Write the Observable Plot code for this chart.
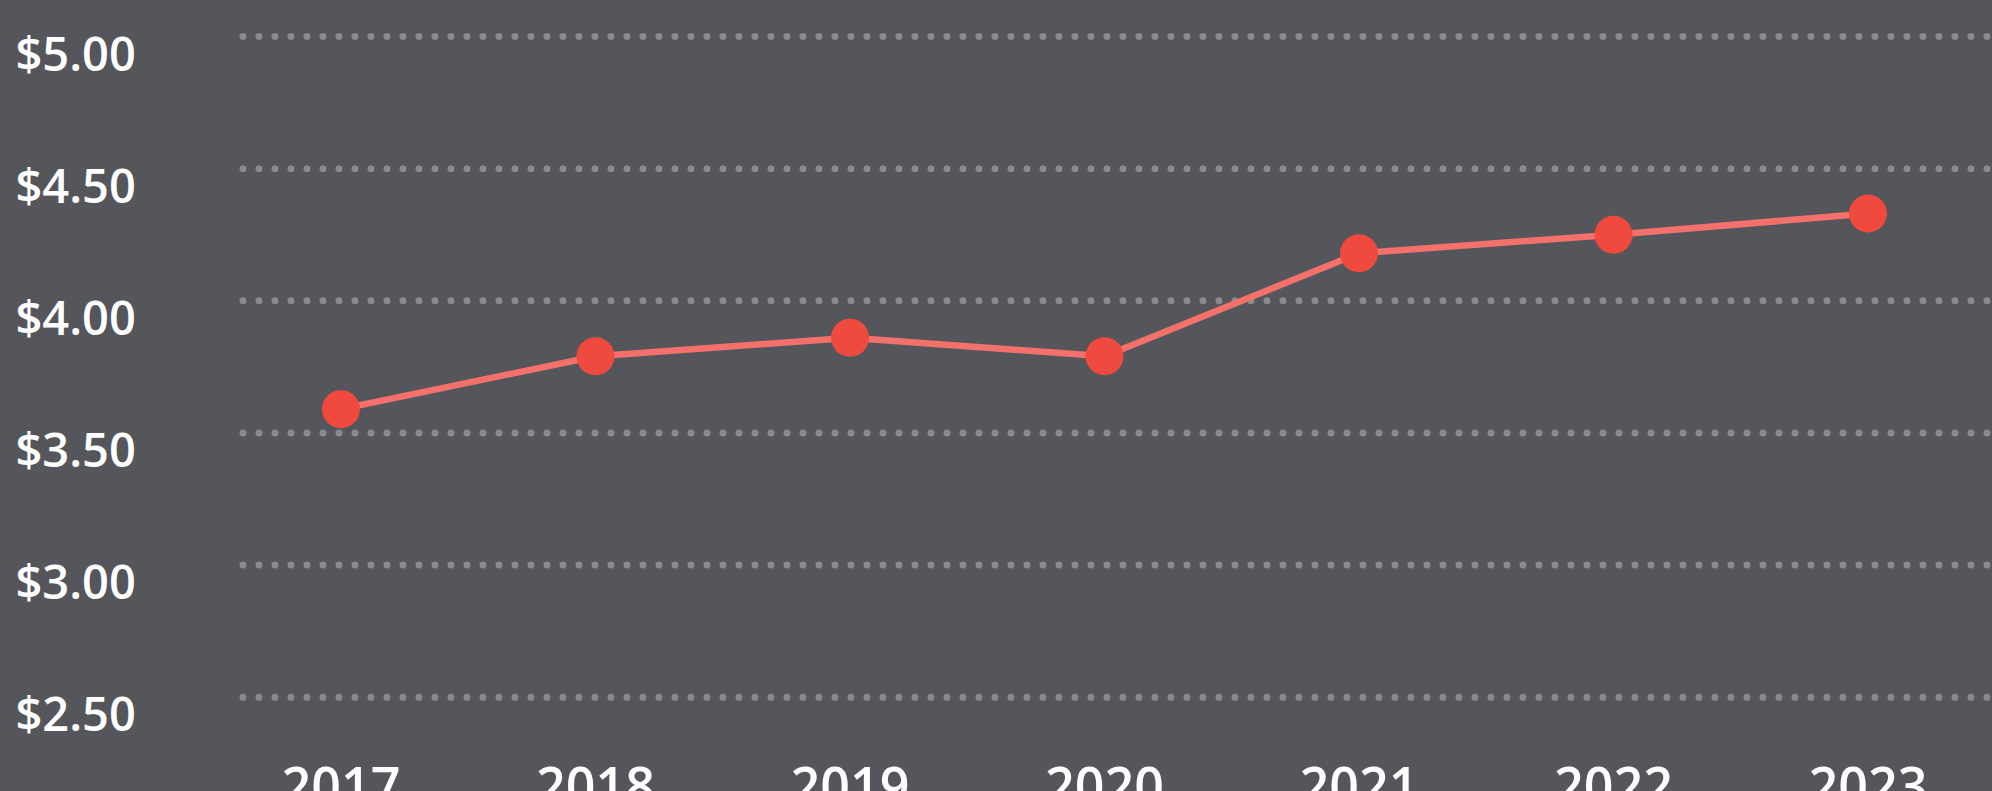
<!DOCTYPE html>
<html>
<head>
<meta charset="utf-8">
<script src="https://cdn.jsdelivr.net/npm/d3@7"></script>
<script src="https://cdn.jsdelivr.net/npm/@observablehq/plot@0.6"></script>
<style>
  html, body { margin: 0; padding: 0; background: #55565b; overflow: hidden; }
  #chart svg { display: block; }
</style>
</head>
<body>
<div id="chart"></div>
<script>
const years = [2017, 2018, 2019, 2020, 2021, 2022, 2023];
const prices = [3.59, 3.79, 3.86, 3.79, 4.18, 4.25, 4.33];
const yTicks = [2.5, 3.0, 3.5, 4.0, 4.5, 5.0];
const yTickLabels = ["$2.50", "$3.00", "$3.50", "$4.00", "$4.50", "$5.00"];

const data = years.map((year, i) => ({year, price: prices[i]}));
const tickData = yTicks.map((v, i) => ({v, label: yTickLabels[i]}));

const font = "'Open Sans', sans-serif";

const chart = Plot.plot({
  width: 1992,
  height: 791,
  marginLeft: 241,
  marginRight: 0,
  marginTop: 0,
  marginBottom: 0,
  style: {background: "#55565b", fontFamily: font, overflow: "hidden"},
  x: {domain: [2017, 2023], range: [340.5, 1867.5], axis: null},
  y: {domain: [2.5, 5], range: [696.7, 36], axis: null},
  marks: [
    Plot.ruleY(tickData, {
      y: "v", stroke: "#8a8b8f", strokeWidth: 7,
      strokeDasharray: "0,16", strokeLinecap: "round", strokeDashoffset: -2
    }),
    Plot.text(tickData, {
      y: "v", text: "label", frameAnchor: "left", textAnchor: "start",
      dx: -226, dy: 19, fill: "#ffffff", fontSize: 47, fontWeight: 600
    }),
    Plot.text(years, {
      x: d => d, text: d => String(d), frameAnchor: "bottom", lineAnchor: "middle",
      dy: -3, fill: "#ffffff", fontSize: 52, fontWeight: 600
    }),
    Plot.line(data, {x: "year", y: "price", stroke: "#f4716b", strokeWidth: 6.5}),
    Plot.dot(data, {x: "year", y: "price", r: 19, fill: "#f04a3e", stroke: "none"})
  ]
});
document.getElementById("chart").appendChild(chart);
</script>
</body>
</html>
